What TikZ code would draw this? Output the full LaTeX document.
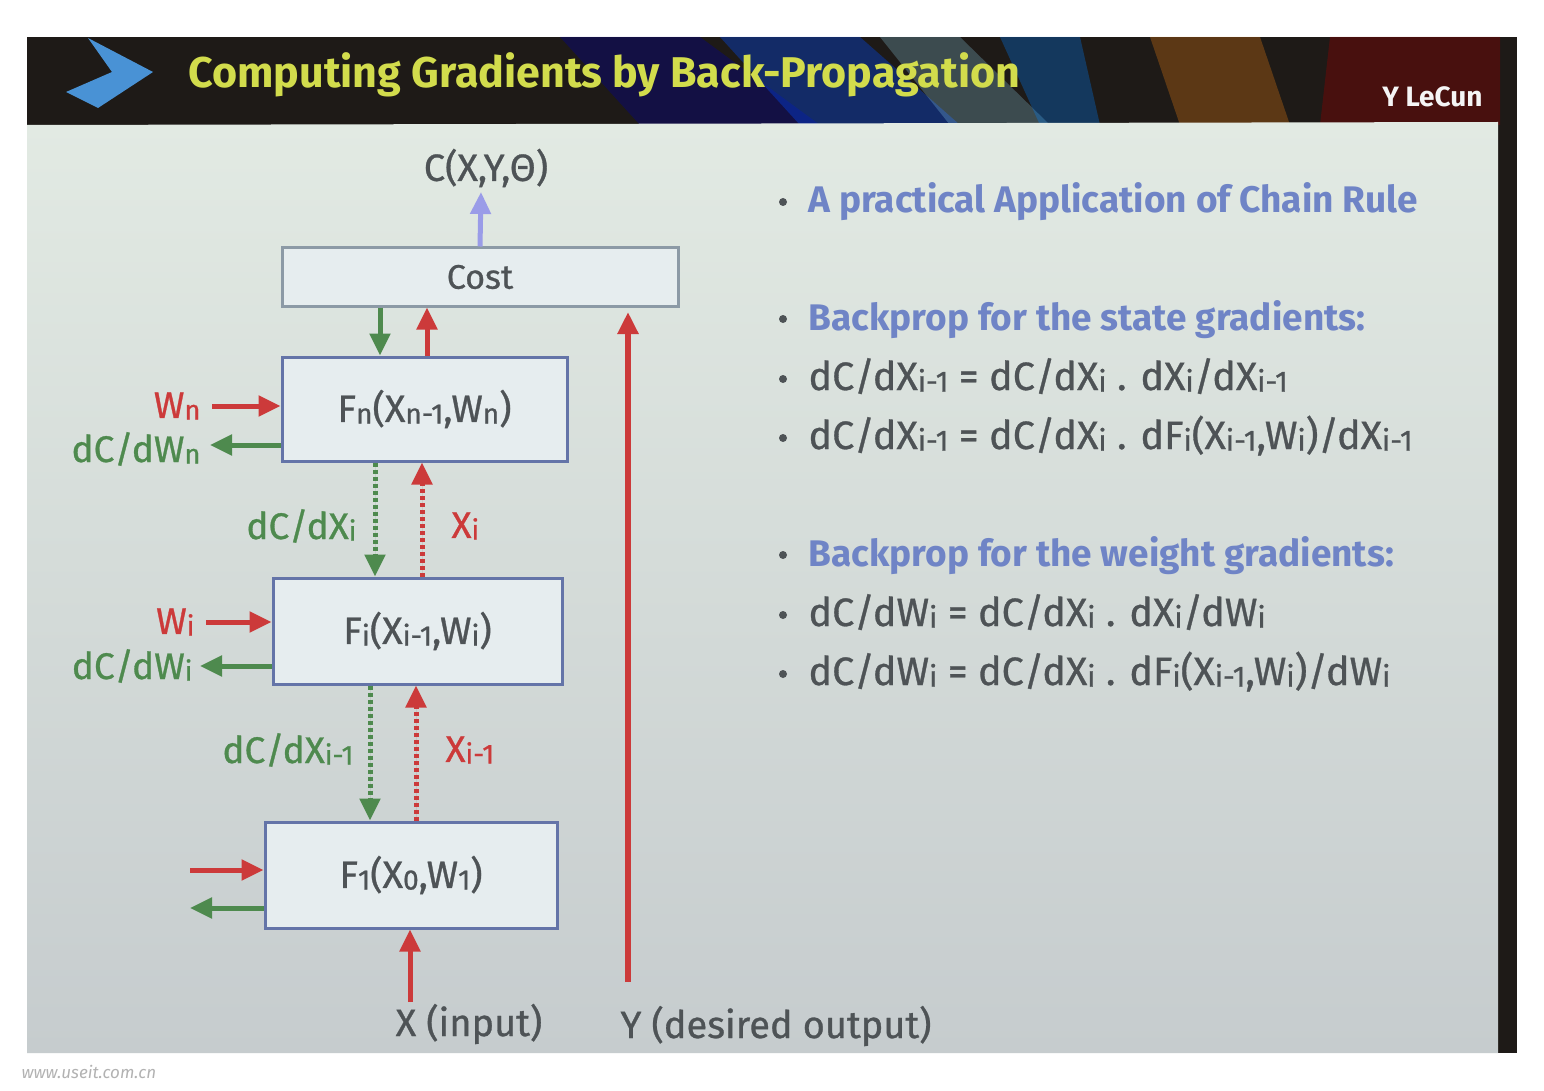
\documentclass[tikz,border=0pt]{standalone}
\usepackage{fontspec}
\setmainfont{Fira Sans}
\newfontfamily\medfont{Fira Sans}[FakeBold=0.8]
\usetikzlibrary{arrows.meta}
\definecolor{hdr}{HTML}{1E1A17}
\definecolor{ttl}{HTML}{D2DC4C}
\definecolor{bgtop}{HTML}{E2EAE3}
\definecolor{bgbot}{HTML}{C6CCCE}
\definecolor{boxblue}{HTML}{6474A8}
\definecolor{boxgray}{HTML}{8C9AA6}
\definecolor{boxfill}{HTML}{E6EDEF}
\definecolor{txt}{HTML}{4E5356}
\definecolor{gr}{HTML}{4E8A4E}
\definecolor{rd}{HTML}{CC3A3A}
\definecolor{lav}{HTML}{9A9CE8}
\definecolor{bul}{HTML}{6F84C6}
\newcommand\sbs[1]{\raisebox{-0.08ex}{\scalebox{0.74}{#1}}}
\tikzset{
  fbox/.style={draw=boxblue, line width=3pt, fill=boxfill, font=\medfont\fontsize{38}{42}\selectfont, text=txt},
  costbox/.style={draw=boxgray, line width=3pt, fill=boxfill, font=\medfont\fontsize{34}{38}\selectfont, text=txt},
  arrbase/.style={line width=5pt, -{Triangle[width=20pt,length=22pt]}},
  rarr/.style={arrbase, draw=rd, fill=rd},
  garr/.style={arrbase, draw=gr, fill=gr},
  barr/.style={arrbase, draw=lav, fill=lav},
  rdot/.style={line width=5pt, draw=rd, dash pattern=on 4pt off 3pt, -{Triangle[width=20pt,length=22pt]}, fill=rd},
  gdot/.style={line width=5pt, draw=gr, dash pattern=on 4pt off 3pt, -{Triangle[width=20pt,length=22pt]}, fill=gr},
  glab/.style={text=gr, font=\medfont\fontsize{37}{40}\selectfont},
  rlab/.style={text=rd, font=\medfont\fontsize{37}{40}\selectfont},
  dlab/.style={text=txt, font=\medfont\fontsize{38}{42}\selectfont},
  bluetext/.style={text=bul, font=\bfseries\fontsize{37}{42}\selectfont, anchor=base west},
  eqtext/.style={text=txt, font=\medfont\fontsize{39.5}{42}\selectfont, anchor=base west},
  dotmark/.style={circle, fill=txt, inner sep=0pt, minimum size=8pt},
}
\begin{document}
\begin{tikzpicture}[x=1pt,y=-1pt]
\useasboundingbox (0,0) rectangle (1544,1091);
\fill[white] (0,0) rectangle (1544,1091);
% header and slide frame
\fill[hdr] (27,37) rectangle (1517,1053);
\fill[blue!60!black, opacity=0.35] (560,37) -- (700,37) -- (820,125) -- (640,125) -- cycle;
\fill[blue!70!cyan, opacity=0.35] (720,37) -- (860,37) -- (960,125) -- (800,125) -- cycle;
\fill[cyan!40!white, opacity=0.25] (880,37) -- (960,37) -- (1050,125) -- (950,125) -- cycle;
\fill[blue!50!cyan, opacity=0.3] (1000,37) -- (1080,37) -- (1100,125) -- (1040,125) -- cycle;
\fill[orange!70!brown, opacity=0.3] (1150,37) -- (1260,37) -- (1290,125) -- (1180,125) -- cycle;
\fill[red!60!black, opacity=0.35] (1330,37) -- (1500,37) -- (1500,125) -- (1320,125) -- cycle;
\fill[cyan!60!blue!75!white] (88,38) -- (153,72) -- (98,108) -- (66,92) -- (112,72) -- cycle;
\node[text=ttl, font=\bfseries\fontsize{43}{47}\selectfont, anchor=base west] (title) at (185,88) {Computing Gradients by Back-Propagation};
\node[text=white!92!gray, font=\bfseries\fontsize{28}{30}\selectfont, anchor=base east] (author) at (1486,107) {Y LeCun};
% content area
\shade[top color=bgtop, bottom color=bgbot] (27,125) -- (1498,122) -- (1498,1053) -- (27,1053) -- cycle;

% diagram nodes
\node[dlab] (cl) at (486,168) {C(X,Y,Θ)};
\node[costbox, minimum width=396pt, minimum height=58pt] (cost) at (480,277) {Cost};
\node[fbox, minimum width=285pt, minimum height=104pt] (fn) at (424.5,409) {F\sbs{n}(X\sbs{n-1},W\sbs{n})};
\node[fbox, minimum width=289pt, minimum height=106pt] (fi) at (417.5,631) {F\sbs{i}(X\sbs{i-1},W\sbs{i})};
\node[fbox, minimum width=292pt, minimum height=106pt] (f1) at (411,875) {F\sbs{1}(X\sbs{0},W\sbs{1})};

\node[rlab, anchor=east] (wn) at (204,406) {W\sbs{n}};
\node[glab, anchor=east] (dwn) at (204,449) {dC/dW\sbs{n}};
\node[rlab, anchor=east] (wi) at (198,622) {W\sbs{i}};
\node[glab, anchor=east] (dwi) at (196,666) {dC/dW\sbs{i}};
\node[glab, anchor=east] (dxi) at (360,526) {dC/dX\sbs{i}};
\node[rlab, anchor=west] (xi) at (448,526) {X\sbs{i}};
\node[glab, anchor=east] (dxim) at (357,750) {dC/dX\sbs{i-1}};
\node[rlab, anchor=west] (xim) at (442,750) {X\sbs{i-1}};
\node[dlab] (xin) at (469,1024) {X (input)};
\node[dlab] (yout) at (776,1026) {Y (desired output)};

\coordinate (ctop) at (481,192);
\coordinate (ga) at (380,0);
\coordinate (ra) at (427,0);
\coordinate (gb) at (375,0);
\coordinate (rb) at (422,0);
\coordinate (gc) at (370,0);
\coordinate (rc) at (416,0);
\coordinate (f1in) at (190,870);
\coordinate (f1out) at (190,908);
\coordinate (xa) at (410,1002);
\coordinate (ybot) at (628,982);
\coordinate (ytop) at (628,312);

% connectors
\draw[barr] (cost.north) -- (ctop);
\draw[garr] (ga |- cost.south) -- (ga |- fn.north);
\draw[rarr] (ra |- fn.north) -- (ra |- cost.south);
\draw[rarr, shorten <=8pt] (wn.east) -- (wn.east -| fn.west);
\draw[garr, shorten >=6pt] (fn.west |- 0,445) -- (dwn.east |- 0,445);
\draw[gdot] (gb |- fn.south) -- (gb |- fi.north);
\draw[rdot] (rb |- fi.north) -- (rb |- fn.south);
\draw[rarr, shorten <=8pt] (wi.east) -- (wi.east -| fi.west);
\draw[garr, shorten >=4pt] (fi.west |- 0,666) -- (dwi.east |- 0,666);
\draw[gdot] (gc |- fi.south) -- (gc |- f1.north);
\draw[rdot] (rc |- f1.north) -- (rc |- fi.south);
\draw[rarr] (f1in) -- (f1in -| f1.west);
\draw[garr] (f1out -| f1.west) -- (f1out);
\draw[rarr] (xa) -- (xa |- f1.south);
\draw[rarr, line width=6pt] (ybot) -- (ytop);

% bullet text
\node[dotmark] (b1) at (783,202) {};
\node[bluetext] (t1) at (805,213) {A practical Application of Chain Rule};
\node[dotmark] (b2) at (783,319) {};
\node[bluetext] (t2) at (805,330) {Backprop for the state gradients:};
\node[dotmark] (b3) at (783,379) {};
\node[eqtext] (t3) at (805,390) {dC/dX\sbs{i-1} = dC/dX\sbs{i} . dX\sbs{i}/dX\sbs{i-1}};
\node[dotmark] (b4) at (783,438) {};
\node[eqtext] (t4) at (805,449) {dC/dX\sbs{i-1} = dC/dX\sbs{i} . dF\sbs{i}(X\sbs{i-1},W\sbs{i})/dX\sbs{i-1}};
\node[dotmark] (b5) at (783,555) {};
\node[bluetext] (t5) at (805,566) {Backprop for the weight gradients:};
\node[dotmark] (b6) at (783,615) {};
\node[eqtext] (t6) at (805,626) {dC/dW\sbs{i} = dC/dX\sbs{i} . dX\sbs{i}/dW\sbs{i}};
\node[dotmark] (b7) at (783,674) {};
\node[eqtext] (t7) at (805,685) {dC/dW\sbs{i} = dC/dX\sbs{i} . dF\sbs{i}(X\sbs{i-1},W\sbs{i})/dW\sbs{i}};

% watermark
\node[text=gray!60, font=\fontsize{17}{19}\selectfont\itshape, anchor=base west] (wm) at (18,1078) {www.useit.com.cn};
\end{tikzpicture}
\end{document}
